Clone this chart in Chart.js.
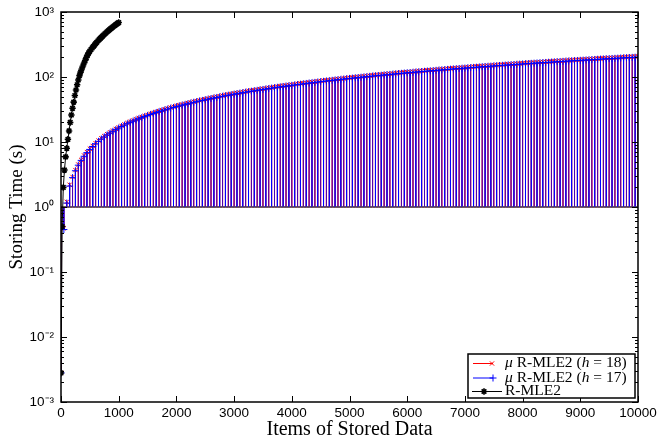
<!DOCTYPE html>
<html><head><meta charset="utf-8">
<script src="https://cdn.jsdelivr.net/npm/chart.js@4/dist/chart.umd.min.js"></script>
<style>html,body{margin:0;padding:0;background:#fff}canvas{display:block}</style>
</head><body>
<canvas id="c" width="657" height="445"></canvas>
<script>
// ---------- data ----------
const seriesLabels = ['μ R-MLE2 (h = 18)', 'μ R-MLE2 (h = 17)', 'R-MLE2'];

// x positions of the μ R-MLE2 measurements (items)
const xMu = [
  0,50,100,150,200,250,300,350,400,450,500,550,600,650,700,750,800,850,900,950,
  1000,1050,1100,1150,1200,1250,1300,1350,1400,1450,1500,1550,1600,1650,1700,1750,1800,1850,1900,1950,
  2000,2050,2100,2150,2200,2250,2300,2350,2400,2450,2500,2550,2600,2650,2700,2750,2800,2850,2900,2950,
  3000,3050,3100,3150,3200,3250,3300,3350,3400,3450,3500,3550,3600,3650,3700,3750,3800,3850,3900,3950,
  4000,4050,4100,4150,4200,4250,4300,4350,4400,4450,4500,4550,4600,4650,4700,4750,4800,4850,4900,4950,
  5000,5050,5100,5150,5200,5250,5300,5350,5400,5450,5500,5550,5600,5650,5700,5750,5800,5850,5900,5950,
  6000,6050,6100,6150,6200,6250,6300,6350,6400,6450,6500,6550,6600,6650,6700,6750,6800,6850,6900,6950,
  7000,7050,7100,7150,7200,7250,7300,7350,7400,7450,7500,7550,7600,7650,7700,7750,7800,7850,7900,7950,
  8000,8050,8100,8150,8200,8250,8300,8350,8400,8450,8500,8550,8600,8650,8700,8750,8800,8850,8900,8950,
  9000,9050,9100,9150,9200,9250,9300,9350,9400,9450,9500,9550,9600,9650,9700,9750,9800,9850,9900,9950,
  10000
];

// μ R-MLE2 (h = 18) storing time (s)
const muH18 = [
  0.0028,
  0.47,1.2,2.2,2.9,3.7,4.5,5.3,6.2,7.0,7.9,8.7,9.6,10.5,11.4,12.3,13.2,14.1,15.0,15.9,16.8,
  17.7,18.7,19.6,20.6,21.5,22.4,23.4,24.3,25.2,26.1,
  27.2,28.1,29.1,30.0,31.0,32.0,32.9,33.9,34.9,35.9,
  36.8,37.8,38.8,39.8,40.8,41.8,42.7,43.8,44.7,45.7,
  46.7,47.8,48.8,49.7,50.7,51.8,52.8,53.8,54.7,55.8,
  56.8,57.8,58.8,59.9,60.9,61.9,62.9,64.0,65.0,66.0,
  67.0,68.1,69.1,70.2,71.2,72.3,73.3,74.3,75.3,76.4,
  77.4,78.5,79.5,80.6,81.6,82.7,83.7,84.8,85.8,86.9,
  87.9,89.0,90.1,91.1,92.1,93.3,94.3,95.3,96.5,97.5,
  98.5,99.6,100.7,101.7,102.8,103.8,105.0,106.0,107.1,108.1,
  109.2,110.3,111.3,112.4,113.6,114.6,115.7,116.7,117.9,118.9,
  120.0,121.1,122.2,123.2,124.3,125.5,126.5,127.6,128.6,129.8,
  130.9,131.9,133.0,134.2,135.3,136.3,137.5,138.6,139.6,140.7,
  141.9,143.0,144.0,145.1,146.3,147.4,148.5,149.6,150.7,151.8,
  152.9,154.1,155.1,156.2,157.3,158.5,159.6,160.6,161.7,162.9,
  164.0,165.1,166.2,167.3,168.4,169.5,170.7,171.7,172.8,173.9,
  175.1,176.2,177.3,178.5,179.6,180.7,181.8,183.0,184.1,185.2,
  186.3,187.5,188.6,189.7,190.8,192.0,193.1,194.2,195.3,196.5,
  197.6,198.7,199.9,201.0,202.1,203.3,204.4,205.5,206.6,207.8
];

// μ R-MLE2 (h = 17) storing time (s)
const muH17 = [
  0.0028,
  0.45,1.15,2.1,2.83,3.61,4.40,5.21,6.03,6.86,7.69,8.53,9.39,10.24,11.11,11.98,12.86,13.73,14.61,15.50,16.4,
  17.3,18.2,19.1,20.1,21.0,21.9,22.8,23.7,24.6,25.5,
  26.5,27.4,28.4,29.3,30.2,31.2,32.1,33.1,34.0,35.0,
  35.9,36.9,37.9,38.8,39.8,40.8,41.7,42.7,43.6,44.6,
  45.6,46.6,47.6,48.5,49.5,50.5,51.5,52.5,53.4,54.4,
  55.4,56.4,57.4,58.4,59.4,60.4,61.4,62.4,63.4,64.4,
  65.4,66.4,67.4,68.5,69.5,70.5,71.5,72.5,73.5,74.5,
  75.5,76.6,77.6,78.6,79.6,80.7,81.7,82.7,83.7,84.8,
  85.8,86.8,87.9,88.9,89.9,91.0,92.0,93.0,94.1,95.1,
  96.1,97.2,98.2,99.2,100.3,101.3,102.4,103.4,104.5,105.5,
  106.5,107.6,108.6,109.7,110.8,111.8,112.9,113.9,115.0,116.0,
  117.1,118.1,119.2,120.2,121.3,122.4,123.4,124.5,125.5,126.6,
  127.7,128.7,129.8,130.9,132.0,133.0,134.1,135.2,136.2,137.3,
  138.4,139.5,140.5,141.6,142.7,143.8,144.9,145.9,147.0,148.1,
  149.2,150.3,151.3,152.4,153.5,154.6,155.7,156.7,157.8,158.9,
  160.0,161.1,162.1,163.2,164.3,165.4,166.5,167.5,168.6,169.7,
  170.8,171.9,173.0,174.1,175.2,176.3,177.4,178.5,179.6,180.7,
  181.8,182.9,184.0,185.1,186.2,187.3,188.4,189.5,190.6,191.7,
  192.8,193.9,195.0,196.1,197.2,198.3,199.4,200.5,201.6,202.7
];

// x positions of the R-MLE2 measurements
const xRmle2 = [
  0,20,40,60,80,100,120,140,160,180,200,220,240,260,280,300,320,340,360,380,
  400,420,440,460,480,500,520,540,560,580,600,620,640,660,680,700,720,740,760,780,
  800,820,840,860,880,900,920,940,960,980,1000
];
// R-MLE2 storing time (s)
const rmle2 = [
  0.0028,0.5,2.0,3.7,5.9,8.0,11,14.8,20,26,33,41,52,63,76,90,105,119,133,148,
  164,181,199,217,235,250,265,280,295,310,326,342,359,375,392,409,426,443,461,478,
  496,515,533,552,570,590,609,628,648,668,688
];

const stemBase = 1;           // baseline value the μ R-MLE2 stems drop to
const xTicks = [0,1000,2000,3000,4000,5000,6000,7000,8000,9000,10000];
const xTickLabels = ['0','1000','2000','3000','4000','5000','6000','7000','8000','9000','10000'];
const yTicks = [1e-3,1e-2,1e-1,1e0,1e1,1e2,1e3];
const yTickLabels = ['10\u207B\u00B3','10\u207B\u00B2','10\u207B\u00B9','10\u2070','10\u00B9','10\u00B2','10\u00B3'];

// ---------- build library data ----------
function stemPoints(xs, ys) {
  const pts = [];
  xs.forEach((x, i) => { pts.push({x: x, y: stemBase}, {x: x, y: ys[i]}, {x: x, y: stemBase}); });
  return pts;
}
const seriesPoints = (xs, ys) => xs.map((x, i) => ({x: x, y: ys[i]}));

const markerOnly = r => (ctx => (ctx.index % 3 === 1 ? r : 0));
// every other blue stem is drawn half transparent so the red stem beneath tints it purple;
// the segments running along the baseline are drawn dark grey as in the original
const blueStem = ctx => {
  if (ctx.p0DataIndex % 3 === 2) return '#4a4a5a';
  return Math.floor(ctx.p0DataIndex / 3) % 2 === 0 ? 'rgba(0,0,255,0.45)' : '#0000ff';
};
const blueStemWidth = ctx => (ctx.p0DataIndex % 3 === 2 ? 1.6 : 1);

const datasets = [
  { label: seriesLabels[0], data: stemPoints(xMu, muH18), borderColor: '#ff0000', backgroundColor: '#ff0000',
    borderWidth: 1, pointStyle: 'crossRot', pointRadius: markerOnly(3), pointBorderWidth: 1, order: 3, mk: {style:'crossRot', r:3, w:1} },
  { label: seriesLabels[1], data: stemPoints(xMu, muH17), borderColor: '#0000ff', backgroundColor: '#0000ff',
    segment: { borderColor: blueStem, borderWidth: blueStemWidth },
    borderWidth: 1, pointStyle: 'cross', pointRadius: markerOnly(3.5), pointBorderWidth: 1, order: 2, mk: {style:'cross', r:3.5, w:1} },
  { label: seriesLabels[2], data: seriesPoints(xRmle2, rmle2), borderColor: '#000000', backgroundColor: '#000000',
    borderWidth: 1, pointStyle: 'star', pointRadius: 3.2, pointBorderWidth: 1.6, order: 1, mk: {style:'star', r:3.2, w:1.6} }
];

// ---------- plugins ----------
const framePlugin = {
  id: 'frame',
  afterDatasetsDraw(chart) {
    const {ctx, chartArea: a, scales: {x, y}} = chart;
    ctx.save();
    ctx.strokeStyle = '#000';
    ctx.lineWidth = 1;
    ctx.beginPath();
    xTicks.forEach(v => {
      const px = Math.round(x.getPixelForValue(v)) + 0.5;
      ctx.moveTo(px, a.bottom); ctx.lineTo(px, a.bottom - 6);
      ctx.moveTo(px, a.top); ctx.lineTo(px, a.top + 6);
    });
    for (let d = -3; d <= 3; d++) {
      for (let m = 1; m <= 9; m++) {
        if (d === 3 && m > 1) break;
        const v = m * Math.pow(10, d);
        const py = Math.round(y.getPixelForValue(v)) + 0.5;
        const len = m === 1 ? 6 : 3;
        ctx.moveTo(a.left, py); ctx.lineTo(a.left + len, py);
        ctx.moveTo(a.right, py); ctx.lineTo(a.right - len, py);
      }
    }
    ctx.stroke();
    ctx.lineWidth = 1.5;
    ctx.strokeRect(a.left, a.top, a.right - a.left, a.bottom - a.top);
    ctx.restore();
  }
};

const legendPlugin = {
  id: 'boxLegend',
  afterDraw(chart) {
    const {ctx, chartArea: a} = chart;
    const bw = 167, bh = 44;
    const bx = a.right - 170, by = a.bottom - 48;
    ctx.save();
    ctx.fillStyle = '#fff';
    ctx.fillRect(bx, by, bw, bh);
    ctx.strokeStyle = '#000';
    ctx.lineWidth = 1.5;
    ctx.strokeRect(bx, by, bw, bh);
    const rows = [by + 9.5, by + 24, by + 37.5];
    const lines = [[bx + 5, bx + 25, bx + 24], [bx + 5, bx + 25, bx + 25], [bx + 4, bx + 34, bx + 16]];
    chart.data.datasets.forEach((ds, i) => {
      const yy = rows[i];
      const [l0, l1, mx] = lines[i];
      ctx.strokeStyle = ds.borderColor;
      ctx.fillStyle = ds.borderColor;
      ctx.lineWidth = 1;
      ctx.beginPath(); ctx.moveTo(l0, yy); ctx.lineTo(l1, yy); ctx.stroke();
      ctx.lineWidth = ds.mk.w;
      Chart.helpers.drawPoint(ctx, {pointStyle: ds.mk.style, radius: ds.mk.r, borderWidth: ds.mk.w, rotation: 0}, mx, yy);
      ctx.fillStyle = '#000';
      ctx.textBaseline = 'middle';
      ctx.textAlign = 'left';
      let tx = bx + 37;
      const parts = ds.label.split(/(μ|\bh\b)/).filter(s => s.length);
      parts.forEach(p => {
        const it = (p === 'μ' || p === 'h');
        ctx.font = (it ? 'italic ' : '') + '15.5px "Liberation Serif"';
        ctx.fillText(p, tx, yy - 0.5);
        tx += ctx.measureText(p).width;
      });
    });
    ctx.restore();
  }
};

// ---------- chart ----------
new Chart(document.getElementById('c'), {
  type: 'line',
  data: { datasets: datasets },
  options: {
    responsive: false,
    animation: false,
    devicePixelRatio: 1,
    layout: { padding: { left: 0, right: 19, top: 12, bottom: 0 } },
    plugins: { legend: { display: false }, tooltip: { enabled: false } },
    elements: { line: { tension: 0, fill: false } },
    scales: {
      x: {
        type: 'linear', min: 0, max: 10000,
        grid: { display: false, drawTicks: false },
        border: { display: false },
        afterBuildTicks: s => { s.ticks = xTicks.map(v => ({ value: v })); },
        afterFit: s => { s.height = 43; s.paddingLeft = 0; s.paddingRight = 0; },
        ticks: {
          autoSkip: false, maxRotation: 0, minRotation: 0, padding: 5, color: '#000',
          font: { family: '"Liberation Sans", Arial, sans-serif', size: 13.5, lineHeight: 1 },
          callback: (v, i) => xTickLabels[i]
        },
        title: {
          display: true, text: 'Items of Stored Data', color: '#000',
          font: { family: '"Liberation Serif", serif', size: 20, lineHeight: 1 },
          padding: { top: 0, bottom: 5 }
        }
      },
      y: {
        type: 'logarithmic', min: 1e-3, max: 1e3,
        grid: { display: false, drawTicks: false },
        border: { display: false },
        afterBuildTicks: s => { s.ticks = yTicks.map(v => ({ value: v })); },
        afterFit: s => { s.width = 61; s.paddingTop = 0; s.paddingBottom = 0; },
        ticks: {
          autoSkip: false, padding: 7, color: '#000',
          font: { family: '"Liberation Sans", Arial, sans-serif', size: 13.5, lineHeight: 1 },
          callback: (v, i) => yTickLabels[i]
        },
        title: {
          display: true, text: 'Storing Time (s)', color: '#000',
          font: { family: '"Liberation Serif", serif', size: 19, lineHeight: 1 },
          padding: { top: 8, bottom: 0 }
        }
      }
    }
  },
  plugins: [framePlugin, legendPlugin]
});
</script>
</body></html>
